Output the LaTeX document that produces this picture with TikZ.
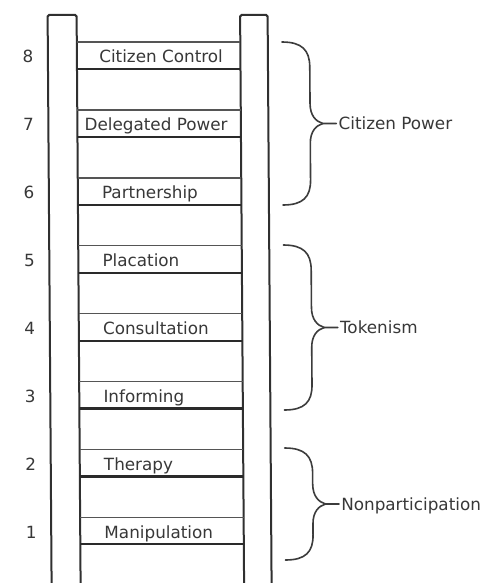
\documentclass[tikz,border=0pt]{standalone}
\usepackage{fontspec}
\setmainfont{DejaVu Sans}
\definecolor{railc}{HTML}{303030}
\definecolor{rungtopc}{HTML}{555555}
\definecolor{rungbotc}{HTML}{2A2A2A}
\definecolor{textc}{HTML}{383838}
\definecolor{bracec}{HTML}{3C3C3C}
\begin{document}
\begin{tikzpicture}[x=1pt,y=-1pt,
  rail/.style={draw=railc, line width=2pt, rounded corners=1.5pt},
  rungtop/.style={draw=rungtopc, line width=1.5pt},
  rungbot/.style={draw=rungbotc, line width=2.2pt},
  lbl/.style={font=\fontsize{16.8}{19}\selectfont, text=textc, inner sep=0pt},
  brc/.style={draw=bracec, line width=1.6pt, line cap=round}]
\useasboundingbox[fill=white] (0,0) rectangle (488,583);
\begin{scope}[xslant=-0.007]
  % rails
  \draw[rail] (47.5,600) -- (47.5,15) -- (76.5,15) -- (76.5,600);
  \draw[rail] (240,600) -- (240,15) -- (267.5,15) -- (267.5,600);
  % rungs
  \foreach \k in {1,...,8}{
    \pgfmathsetmacro{\tp}{42+67.9*(8-\k)}
    \pgfmathsetmacro{\bt}{\tp+27}
    \draw[rungtop] (76.5,\tp) -- (240,\tp);
    \draw[rungbot] (76.5,\bt) -- (240,\bt);
    \pgfmathsetmacro{\bl}{\tp+21}
    \node[lbl, anchor=base] (n\k) at (27.5,\bl) {\k};
  }
  % rung labels
  \node[lbl, anchor=base west] (r8) at (98.7,63) {Citizen Control};
  \node[lbl, anchor=base west] (r7) at (83.5,130.9) {Delegated Power};
  \node[lbl, anchor=base west] (r6) at (100.5,198.8) {Partnership};
  \node[lbl, anchor=base west] (r5) at (100.5,266.7) {Placation};
  \node[lbl, anchor=base west] (r4) at (100.5,334.6) {Consultation};
  \node[lbl, anchor=base west] (r3) at (100.5,402.5) {Informing};
  \node[lbl, anchor=base west] (r2) at (100.5,470.4) {Therapy};
  \node[lbl, anchor=base west] (r1) at (100.5,538.3) {Manipulation};
  % braces
  \def\L{281.6}\def\M{309.3}\def\Tm{322}\def\Te{335.5}
  \foreach \A/\B/\nm/\txt in {42/205/cp/Citizen Power,245/410/tk/Tokenism,448/560/np/Nonparticipation}{
    \pgfmathsetmacro{\C}{(\A+\B)/2}
    \coordinate (\nm tip) at (\Te,\C);
    \draw[brc] (\L,\A) .. controls (\L+20,\A) and (\M,\A+8) .. (\M,\A+25)
       -- (\M,\C-20) .. controls (\M,\C-8) and (\Tm-7,\C-2) .. (\Tm,\C)
       -- (\nm tip);
    \draw[brc] (\L,\B) .. controls (\L+20,\B) and (\M,\B-8) .. (\M,\B-25)
       -- (\M,\C+20) .. controls (\M,\C+8) and (\Tm-7,\C+2) .. (\Tm,\C);
    \pgfmathsetmacro{\bl}{\C+6.3}
    \node[lbl, anchor=base west] (\nm) at (337.5,\bl) {\txt};
  }
\end{scope}
\end{tikzpicture}
\end{document}
